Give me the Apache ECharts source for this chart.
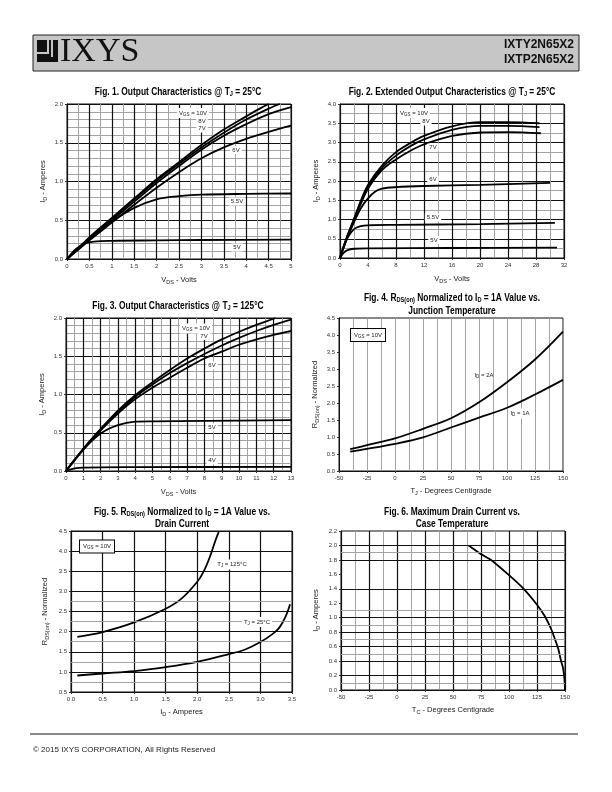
<!DOCTYPE html>
<html><head><meta charset="utf-8">
<script src="https://cdn.jsdelivr.net/npm/echarts@6/dist/echarts.min.js"></script>
<style>html,body{margin:0;padding:0;background:#fff}#c{width:612px;height:792px}</style>
</head><body><div id="c"></div>
<script>
// ---------- DATA ----------
// Fig.1  Output characteristics @25C  [VDS (V), ID (A)]
const f1_10V = [[0,0],[0.25,0.14],[0.5,0.28],[1,0.53],[1.5,0.78],[2,1.03],[2.5,1.25],[3,1.47],[3.5,1.67],[4,1.84],[4.3,1.94],[4.5,2.0]];
const f1_8V  = [[0,0],[0.25,0.14],[0.5,0.27],[1,0.52],[1.5,0.77],[2,1.01],[2.5,1.23],[3,1.44],[3.5,1.63],[4,1.8],[4.5,1.94],[4.75,2.0]];
const f1_7V  = [[0,0],[0.25,0.13],[0.5,0.26],[1,0.5],[1.5,0.74],[2,0.98],[2.5,1.2],[3,1.41],[3.5,1.59],[4,1.74],[4.5,1.87],[5,1.96]];
const f1_6V  = [[0,0],[0.25,0.12],[0.5,0.24],[1,0.47],[1.5,0.7],[2,0.92],[2.5,1.12],[3,1.3],[3.5,1.44],[4,1.55],[4.5,1.64],[5,1.72]];
const f1_55V = [[0,0],[0.25,0.13],[0.5,0.25],[1,0.48],[1.5,0.66],[2,0.77],[2.5,0.81],[3,0.83],[4,0.84],[5,0.845]];
const f1_5V  = [[0,0],[0.2,0.13],[0.4,0.2],[0.6,0.225],[1,0.235],[2,0.24],[3,0.245],[5,0.25]];
// Fig.2  Extended output characteristics @25C
const f2_10V = [[0,0],[1,0.55],[2,1.02],[3,1.5],[4,1.9],[6,2.4],[8,2.75],[10,2.98],[12,3.17],[16,3.42],[20,3.53],[24,3.53],[28.5,3.5]];
const f2_8V  = [[0,0],[1,0.54],[2,1.0],[3,1.47],[4,1.86],[6,2.34],[8,2.66],[10,2.9],[12,3.08],[16,3.33],[20,3.43],[24,3.43],[28.5,3.4]];
const f2_7V  = [[0,0],[1,0.52],[2,0.97],[3,1.42],[4,1.8],[6,2.28],[8,2.56],[10,2.78],[12,2.95],[16,3.17],[20,3.26],[24,3.27],[28.7,3.24]];
const f2_6V  = [[0,0],[1,0.5],[2,0.93],[3,1.3],[4,1.55],[5,1.72],[6,1.8],[8,1.84],[12,1.87],[20,1.9],[30,1.95]];
const f2_55V = [[0,0],[0.5,0.3],[1,0.5],[2,0.75],[3,0.83],[4,0.85],[8,0.86],[20,0.88],[30.7,0.91]];
const f2_5V  = [[0,0],[0.5,0.13],[1,0.2],[2,0.24],[4,0.25],[16,0.26],[31,0.27]];
// Fig.3  Output characteristics @125C
const f3_10V = [[0,0],[1,0.29],[2,0.55],[3,0.79],[4,0.99],[5,1.16],[6,1.32],[7,1.47],[8,1.6],[9,1.72],[10,1.82],[11,1.91],[12,1.99],[12.1,2.0]];
const f3_7V  = [[0,0],[1,0.29],[2,0.54],[3,0.77],[4,0.97],[5,1.13],[6,1.28],[7,1.41],[8,1.53],[9,1.64],[10,1.74],[11,1.83],[12,1.91],[13,1.98]];
const f3_6V  = [[0,0],[1,0.28],[2,0.53],[3,0.75],[4,0.94],[5,1.09],[6,1.22],[7,1.35],[8,1.47],[9,1.56],[10,1.65],[11,1.72],[12,1.78],[13,1.83]];
const f3_5V  = [[0,0],[1,0.28],[2,0.49],[3,0.6],[4,0.645],[5,0.65],[8,0.655],[13,0.665]];
const f3_4V  = [[0,0],[0.5,0.035],[1,0.045],[4,0.05],[13,0.055]];
// Fig.4  RDS(on) normalized vs TJ
const f4_2A = [[-40,0.64],[-25,0.76],[0,0.96],[25,1.24],[50,1.55],[75,2.02],[100,2.61],[125,3.28],[150,4.1]];
const f4_1A = [[-40,0.57],[-25,0.65],[0,0.8],[25,0.99],[50,1.28],[75,1.57],[100,1.86],[125,2.25],[150,2.68]];
// Fig.5  RDS(on) normalized vs ID
const f5_125C = [[0.1,1.87],[0.5,1.99],[1,2.23],[1.5,2.57],[1.75,2.82],[2,3.24],[2.1,3.49],[2.2,3.86],[2.3,4.32],[2.34,4.47]];
const f5_25C  = [[0.1,0.91],[0.5,0.96],[1,1.02],[1.5,1.12],[2,1.25],[2.5,1.44],[2.75,1.55],[3,1.74],[3.2,1.95],[3.3,2.1],[3.4,2.38],[3.47,2.68]];
const f5_grayLines = [0.75,1.25,1.75,2.25,2.75];
// Fig.6  Max drain current vs TC
const f6_curve = [[64,2.0],[75,1.88],[84,1.8],[100,1.59],[112.5,1.41],[125,1.18],[132,1.02],[138,0.83],[142,0.66],[144,0.57],[146.5,0.4],[148.3,0.3],[149.5,0.15],[150,0]];
const f6_blackLines = [2.0,1.8,1.4,1.0,0.8,0.6,0.4,0.2];
const f6_grayLines = [1.9,1.1,0.9,0.7,0.5,0.1];

// ---------- STYLE HELPERS ----------
const FONT = 'Liberation Sans';
const BLACK = '#111';
const GRAY = '#9a9a9a';
const subRich = {
  n: {fontSize: 7.5, fontFamily: FONT, color: '#222'},
  s: {fontSize: 5.5, fontFamily: FONT, color: '#222', padding: [5, 0, 0, 0]}
};
function valAxis(o) {
  return {
    type: 'value', gridIndex: o.g, min: o.min, max: o.max, interval: o.interval,
    axisLine: {show: true, onZero: false, lineStyle: {color: BLACK, width: 1}},
    axisTick: {show: true, length: 2, lineStyle: {color: '#333'}},
    axisLabel: {fontSize: 6, fontFamily: FONT, color: '#333', margin: o.margin || 4, formatter: o.fmt},
    splitLine: {show: o.split !== false, lineStyle: {color: o.splitColor || BLACK, width: o.splitWidth || 1.2}},
    minorTick: {show: false, splitNumber: o.minor || 2},
    minorSplitLine: {show: !!o.minor, lineStyle: {color: GRAY, width: 0.9}},
    name: o.name, nameLocation: 'middle', nameGap: o.gap,
    nameTextStyle: {fontSize: 7.5, fontFamily: FONT, color: '#222', rich: subRich},
    nameRotate: o.rot
  };
}
const f1 = v => v.toFixed(1);
const plain = v => String(v);

function line(data, xi, yi, extra) {
  return Object.assign({type: 'line', xAxisIndex: xi, yAxisIndex: yi, data: data, smooth: 0.35,
    symbol: 'none', lineStyle: {color: '#000', width: 1.8}, silent: true, animation: false, z: 3}, extra || {});
}
function hLines(values, color, width) {
  return {silent: true, symbol: 'none', label: {show: false}, animation: false,
    lineStyle: {color: color, width: width, type: 'solid'},
    data: values.map(v => ({yAxis: v}))};
}
function gridSeries(xi, yi, values, color, width) {
  return {type: 'line', xAxisIndex: xi, yAxisIndex: yi, data: [], silent: true, z: 1, animation: false,
    markLine: hLines(values, color, width)};
}

const grids = [
  {left: 67, top: 104, width: 224, height: 155},
  {left: 340, top: 104, width: 224, height: 154},
  {left: 66, top: 318, width: 225, height: 153},
  {left: 339, top: 318, width: 224, height: 153},
  {left: 71, top: 531, width: 221, height: 161},
  {left: 341, top: 531, width: 224, height: 159}
].map(g => Object.assign({show: true, borderColor: BLACK, borderWidth: 1, backgroundColor: 'transparent'}, g));

const yNameID = '{n|I}{s|D}{n| - Amperes}';
const xNameVDS = '{n|V}{s|DS}{n| - Volts}';
const yNameR = '{n|R}{s|DS(on)}{n| - Normalized}';

const xAxes = [
  valAxis({g: 0, min: 0, max: 5, interval: 0.5, minor: 2, fmt: plain, name: xNameVDS, gap: 15}),
  valAxis({g: 1, min: 0, max: 32, interval: 4, minor: 2, fmt: plain, name: xNameVDS, gap: 15}),
  valAxis({g: 2, min: 0, max: 13, interval: 1, minor: 2, fmt: plain, name: xNameVDS, gap: 15}),
  valAxis({g: 3, min: -50, max: 150, interval: 25, minor: 2, fmt: plain, name: '{n|T}{s|J}{n| - Degrees Centigrade}', gap: 14, splitColor: GRAY, splitWidth: 0.9}),
  valAxis({g: 4, min: 0, max: 3.5, interval: 0.5, fmt: f1, name: '{n|I}{s|D}{n| - Amperes}', gap: 14}),
  valAxis({g: 5, min: -50, max: 150, interval: 25, minor: 2, fmt: plain, name: '{n|T}{s|C}{n| - Degrees Centigrade}', gap: 14})
];
const yAxes = [
  valAxis({g: 0, min: 0, max: 2, interval: 0.5, minor: 5, fmt: f1, name: yNameID, gap: 19, rot: 90}),
  valAxis({g: 1, min: 0, max: 4, interval: 0.5, minor: 2, fmt: f1, name: yNameID, gap: 19, rot: 90}),
  valAxis({g: 2, min: 0, max: 2, interval: 0.5, minor: 5, fmt: f1, name: yNameID, gap: 19, rot: 90}),
  valAxis({g: 3, min: 0, max: 4.5, interval: 0.5, split: false, fmt: f1, name: yNameR, gap: 19, rot: 90}),
  valAxis({g: 4, min: 0.5, max: 4.5, interval: 0.5, fmt: f1, name: yNameR, gap: 21, rot: 90}),
  valAxis({g: 5, min: 0, max: 2.2, interval: 0.2, split: false, fmt: f1, name: yNameID, gap: 20, rot: 90})
];

const series = [
  gridSeries(4, 4, f5_grayLines, GRAY, 0.9),
  gridSeries(5, 5, f6_grayLines, GRAY, 0.9),
  gridSeries(5, 5, f6_blackLines, BLACK, 1.2),
  line(f1_10V, 0, 0), line(f1_8V, 0, 0), line(f1_7V, 0, 0), line(f1_6V, 0, 0), line(f1_55V, 0, 0), line(f1_5V, 0, 0),
  line(f2_10V, 1, 1), line(f2_8V, 1, 1), line(f2_7V, 1, 1), line(f2_6V, 1, 1), line(f2_55V, 1, 1), line(f2_5V, 1, 1),
  line(f3_10V, 2, 2), line(f3_7V, 2, 2), line(f3_6V, 2, 2), line(f3_5V, 2, 2), line(f3_4V, 2, 2),
  line(f4_2A, 3, 3), line(f4_1A, 3, 3),
  line(f5_125C, 4, 4), line(f5_25C, 4, 4),
  line(f6_curve, 5, 5, {smooth: 0.2})
];

// ---------- TEXT / DECORATION ----------
const tRich = {
  b: {fontSize: 10.5, fontFamily: FONT, fontWeight: 'bold', fill: '#000'},
  s: {fontSize: 7, fontFamily: FONT, fontWeight: 'bold', fill: '#000', padding: [4, 0, 0, 0]}
};
function title(x, y, text) {
  return {type: 'text', x: x, y: y, z: 50, scaleX: 0.8, style: {text: text, align: 'center', verticalAlign: 'middle', rich: tRich}};
}
const lRich = {
  n: {fontSize: 6, fontFamily: FONT, fill: '#222'},
  s: {fontSize: 4.5, fontFamily: FONT, fill: '#222', padding: [3, 0, 0, 0]}
};
function lab(x, y, text, opt) {
  return {type: 'text', x: x, y: y, z: 50, style: Object.assign({text: text, align: 'center', verticalAlign: 'middle', rich: lRich,
    backgroundColor: '#fff', padding: [1, 2, 1, 2]}, opt || {})};
}
const boxed = {borderColor: '#000', borderWidth: 1, padding: [2, 3, 2, 3]};

const graphics = [
  // header band
  {type: 'rect', shape: {x: 33, y: 35, width: 546, height: 36}, style: {fill: '#c6c6c6', stroke: '#222', lineWidth: 1}, z: 1},
  {type: 'rect', shape: {x: 37, y: 40, width: 21, height: 22}, style: {fill: '#111'}, z: 2},
  {type: 'rect', shape: {x: 47, y: 40, width: 2, height: 13}, style: {fill: '#c6c6c6'}, z: 3},
  {type: 'rect', shape: {x: 37, y: 52, width: 12, height: 2}, style: {fill: '#c6c6c6'}, z: 3},
  {type: 'rect', shape: {x: 51, y: 40, width: 2, height: 17}, style: {fill: '#c6c6c6'}, z: 3},
  {type: 'text', x: 60, y: 52, z: 3, scaleX: 1.0, style: {text: 'IXYS', fontFamily: 'Liberation Serif', fontSize: 34, fill: '#111', verticalAlign: 'middle', align: 'left'}},
  {type: 'text', x: 574, y: 45, z: 3, style: {text: 'IXTY2N65X2', fontFamily: FONT, fontWeight: 'bold', fontSize: 12, fill: '#111', align: 'right', verticalAlign: 'middle'}},
  {type: 'text', x: 574, y: 60, z: 3, style: {text: 'IXTP2N65X2', fontFamily: FONT, fontWeight: 'bold', fontSize: 12, fill: '#111', align: 'right', verticalAlign: 'middle'}},
  // footer
  {type: 'line', shape: {x1: 30, y1: 734, x2: 578, y2: 734}, style: {stroke: '#111', lineWidth: 1}},
  {type: 'text', x: 33, y: 750, style: {text: '© 2015 IXYS CORPORATION, All Rights Reserved', fontFamily: FONT, fontSize: 8, fill: '#222', verticalAlign: 'middle'}},
  // titles
  title(178, 92, '{b|Fig. 1. Output Characteristics @ T}{s|J}{b| = 25°C}'),
  title(452, 92, '{b|Fig. 2. Extended Output Characteristics @ T}{s|J}{b| = 25°C}'),
  title(178, 306, '{b|Fig. 3. Output Characteristics @ T}{s|J}{b| = 125°C}'),
  title(452, 298, '{b|Fig. 4. R}{s|DS(on)}{b| Normalized to I}{s|D}{b| = 1A Value vs.}'),
  title(452, 311, '{b|Junction Temperature}'),
  title(182, 512, '{b|Fig. 5. R}{s|DS(on)}{b| Normalized to I}{s|D}{b| = 1A Value vs.}'),
  title(182, 524, '{b|Drain Current}'),
  title(452, 512, '{b|Fig. 6. Maximum Drain Current vs.}'),
  title(452, 524, '{b|Case Temperature}'),
  // curve labels fig 1
  lab(193, 113, '{n|V}{s|GS}{n| = 10V}'),
  lab(202, 121, '{n|8V}'),
  lab(202, 128.5, '{n|7V}'),
  lab(236, 150, '{n|6V}'),
  lab(237, 201.5, '{n|5.5V}'),
  lab(237, 247.5, '{n|5V}'),
  // fig 2
  lab(414, 113, '{n|V}{s|GS}{n| = 10V}'),
  lab(426, 121.5, '{n|8V}'),
  lab(433, 147.5, '{n|7V}'),
  lab(433, 179.5, '{n|6V}'),
  lab(433, 217.5, '{n|5.5V}'),
  lab(434, 240, '{n|5V}'),
  // fig 3
  lab(196, 328.5, '{n|V}{s|GS}{n| = 10V}'),
  lab(204, 336, '{n|7V}'),
  lab(212, 365.5, '{n|6V}'),
  lab(212, 427.5, '{n|5V}'),
  lab(212, 460.5, '{n|4V}'),
  // fig 4
  lab(368, 335, '{n|V}{s|GS}{n| = 10V}', boxed),
  lab(484, 375.5, '{n|I}{s|D}{n| = 2A}', {backgroundColor: 'transparent'}),
  lab(520, 413.5, '{n|I}{s|D}{n| = 1A}'),
  // fig 5
  lab(97, 546.5, '{n|V}{s|GS}{n| = 10V}', boxed),
  lab(232, 564.5, '{n|T}{s|J}{n| = 125°C}'),
  lab(257, 622, '{n|T}{s|J}{n| = 25°C}')
];

const chart = echarts.init(document.getElementById('c'), null, {renderer: 'canvas'});
chart.setOption({
  animation: false,
  backgroundColor: '#fff',
  grid: grids,
  xAxis: xAxes,
  yAxis: yAxes,
  series: series,
  graphic: graphics
});
</script>
</body></html>
